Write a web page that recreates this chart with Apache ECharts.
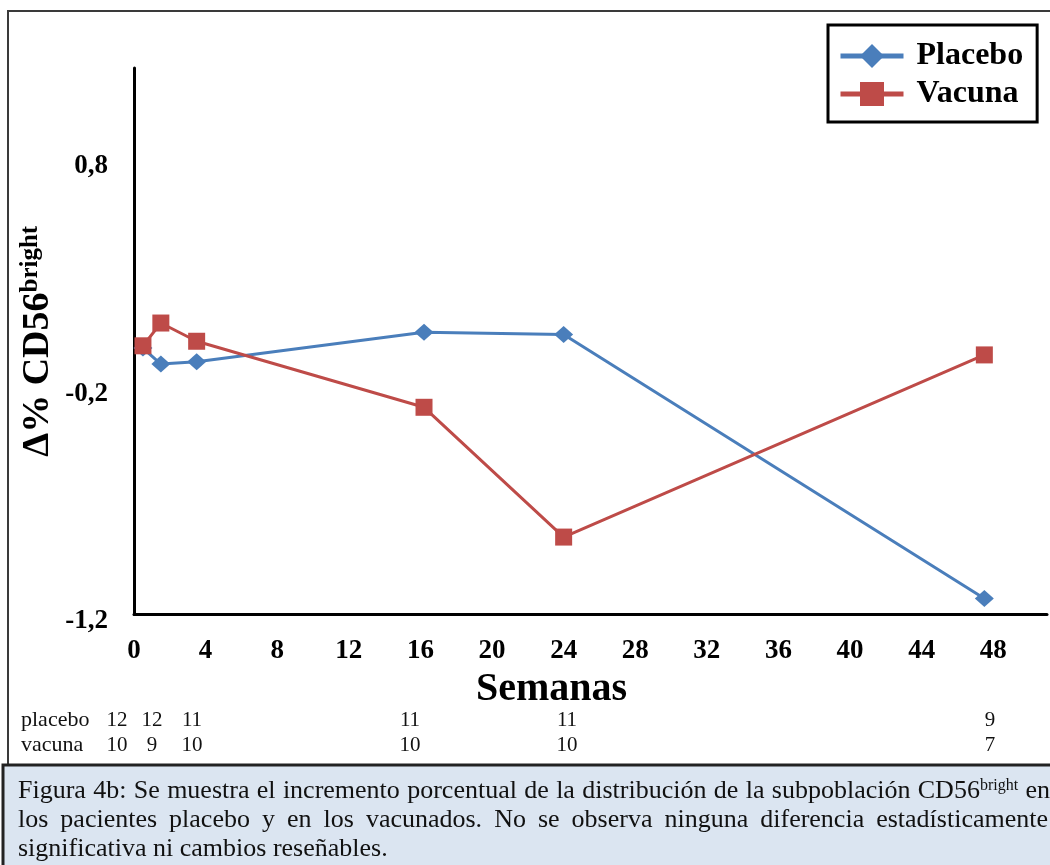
<!DOCTYPE html>
<html><head><meta charset="utf-8">
<script src="https://cdn.jsdelivr.net/npm/echarts@6/dist/echarts.min.js"></script>
<style>html,body{margin:0;padding:0;background:#fff}#c{width:1050px;height:865px}</style>
</head><body><div id="c"></div>
<script>
// ---- data ----
const weeks = [0.5, 1.5, 3.5, 16.2, 24, 47.5];
const placebo = [-0.03, -0.10, -0.09, 0.04, 0.03, -1.13];
const vacuna = [-0.02, 0.08, 0.00, -0.29, -0.86, -0.06];
const yTickValues = [0.8, -0.2, -1.2];
const seriesNames = ['Placebo', 'Vacuna'];
const nPlacebo = [12, 12, 11, 11, 11, 9];
const nVacuna = [10, 9, 10, 10, 10, 7];
const rowLabels = ['placebo', 'vacuna'];
const captionLine1 = 'Figura 4b: Se muestra el incremento porcentual de la distribución de la subpoblación CD56^bright en';
const captionLine2 = 'los pacientes placebo y en los vacunados. No se observa ninguna diferencia estadísticamente';
const captionLine3 = 'significativa ni cambios reseñables.';

// ---- layout ----
const SERIF = '"Liberation Serif","Times New Roman",serif';
const tableColX = [117, 152, 192, 410, 567, 990];
const BLUE = '#4a7ebb', RED = '#be4b48';

const ctx = document.createElement('canvas').getContext('2d');
function tw(text, size) { ctx.font = size + 'px ' + SERIF; return ctx.measureText(text).width; }

function lineElements(line, x0, x1, y, size, justify) {
  const words = line.split(' ').map(s => {
    const p = s.split('^');
    return { t: p[0], sup: p[1] };
  });
  const supSize = Math.round(size * 0.62);
  const widths = words.map(wd => tw(wd.t, size) + (wd.sup ? tw(wd.sup, supSize) : 0));
  const total = widths.reduce((a, b) => a + b, 0);
  const gap = justify ? (x1 - x0 - total) / (words.length - 1) : tw(' ', size);
  let x = x0;
  const els = [];
  words.forEach((wd, i) => {
    let style;
    if (wd.sup) {
      style = {
        text: '{n|' + wd.t + '}{s|' + wd.sup + '}',
        rich: {
          n: { fontSize: size, fontFamily: SERIF, fill: '#111', lineHeight: size },
          s: { fontSize: supSize, fontFamily: SERIF, fill: '#111', verticalAlign: 'top', lineHeight: size }
        },
        verticalAlign: 'middle', align: 'left'
      };
    } else {
      style = { text: wd.t, fontSize: size, fontFamily: SERIF, fill: '#111', verticalAlign: 'middle', align: 'left' };
    }
    els.push({ type: 'text', x: x, y: y, z: 10, style: style });
    x += widths[i] + gap;
  });
  return els;
}

const graphics = [];
// outer frame of the figure
graphics.push({ type: 'rect', shape: { x: 8, y: 11, width: 1060, height: 754 }, style: { fill: 'none', stroke: '#3a3a3a', lineWidth: 2 }, z: 0 });
// caption box
graphics.push({ type: 'rect', shape: { x: 3, y: 765, width: 1065, height: 110 }, style: { fill: '#dbe5f1', stroke: '#222', lineWidth: 3 }, z: 1 });
// N table
const rows = [nPlacebo, nVacuna];
rows.forEach((row, r) => {
  const y = 720 + r * 25;
  graphics.push({ type: 'text', x: 21, y: y, z: 10, style: { text: rowLabels[r], fontSize: 22, fontFamily: SERIF, fill: '#111', verticalAlign: 'middle', align: 'left' } });
  row.forEach((v, i) => {
    graphics.push({ type: 'text', x: tableColX[i], y: y, z: 10, style: { text: String(v), fontSize: 21, fontFamily: SERIF, fill: '#111', verticalAlign: 'middle', align: 'center' } });
  });
});
// caption
lineElements(captionLine1, 18, 1050, 791, 26, true).forEach(e => graphics.push(e));
lineElements(captionLine2, 18, 1048, 820, 26, true).forEach(e => graphics.push(e));
lineElements(captionLine3, 18, 1048, 849, 26, false).forEach(e => graphics.push(e));

const chart = echarts.init(document.getElementById('c'), null, { renderer: 'canvas' });
chart.setOption({
  animation: false,
  backgroundColor: '#fff',
  grid: { left: 134, right: 3, top: 68, bottom: 250.5, containLabel: false },
  legend: {
    data: seriesNames, orient: 'vertical', left: 828, top: 25,
    padding: [15, 14, 12, 10], borderColor: '#000', borderWidth: 3, borderRadius: 0,
    itemWidth: 63, itemHeight: 30, itemGap: 6,
    lineStyle: { width: 5 },
    textStyle: { fontFamily: SERIF, fontWeight: 'bold', fontSize: 32, color: '#000', lineHeight: 32, padding: [0, 0, 0, 8] }
  },
  xAxis: {
    type: 'value', min: 0, max: 51, interval: 4,
    axisLine: { show: true, onZero: false, lineStyle: { color: '#000', width: 3 } },
    axisTick: { show: false }, splitLine: { show: false },
    axisLabel: { showMaxLabel: false, margin: 23, fontFamily: SERIF, fontWeight: 'bold', fontSize: 27, color: '#000' },
    name: 'Semanas', nameLocation: 'middle', nameGap: 55, nameMoveOverlap: false,
    nameTextStyle: { fontFamily: SERIF, fontWeight: 'bold', fontSize: 40, color: '#000', padding: [0, 78, 0, 0] }
  },
  yAxis: {
    type: 'value', min: -1.2, max: 1.2, interval: 0.2,
    axisLine: { show: true, onZero: false, lineStyle: { color: '#000', width: 3 } },
    axisTick: { show: false }, splitLine: { show: false },
    axisLabel: {
      margin: 26, fontFamily: SERIF, fontWeight: 'bold', fontSize: 27, color: '#000',
      verticalAlign: 'top', lineHeight: 14,
      formatter: v => {
        const r = Math.round(v * 10) / 10;
        return yTickValues.some(t => Math.abs(t - r) < 1e-9) ? r.toFixed(1).replace('.', ',') : '';
      }
    },
    name: '{a|Δ% CD56}{b|bright}', nameLocation: 'middle', nameRotate: 90, nameGap: 76, nameMoveOverlap: false,
    nameTextStyle: {
      rich: {
        a: { fontFamily: SERIF, fontWeight: 'bold', fontSize: 38, color: '#000', lineHeight: 40 },
        b: { fontFamily: SERIF, fontWeight: 'bold', fontSize: 25, color: '#000', verticalAlign: 'top', lineHeight: 40 }
      }
    }
  },
  series: [
    {
      name: seriesNames[0], type: 'line', data: weeks.map((x, i) => [x, placebo[i]]),
      symbol: 'diamond', symbolSize: [19, 17], z: 2,
      lineStyle: { color: BLUE, width: 3 }, itemStyle: { color: BLUE }, emphasis: { disabled: true }
    },
    {
      name: seriesNames[1], type: 'line', data: weeks.map((x, i) => [x, vacuna[i]]),
      symbol: 'rect', symbolSize: 17, z: 3,
      lineStyle: { color: RED, width: 3 }, itemStyle: { color: RED }, emphasis: { disabled: true }
    }
  ],
  graphic: graphics
});
</script>
</body></html>
